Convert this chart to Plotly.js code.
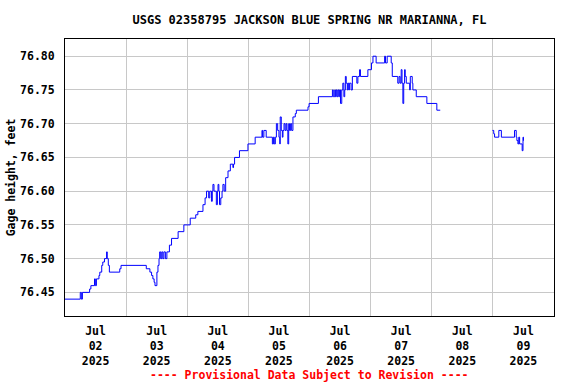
<!DOCTYPE html>
<html>
<head>
<meta charset="utf-8">
<script src="https://cdn.plot.ly/plotly-3.0.1.min.js"></script>
<style>html,body{margin:0;padding:0;background:#fff;}#chart{width:576px;height:384px;}</style>
</head>
<body>
<div id="chart"></div>
<script>
// Gage height readings (feet), 15-minute data shown as step changes
const timesA = [
"2025-07-02 00:00","2025-07-02 06:00","2025-07-02 06:25","2025-07-02 06:50","2025-07-02 09:40","2025-07-02 10:10",
"2025-07-02 11:35","2025-07-02 11:55","2025-07-02 12:20","2025-07-02 13:20","2025-07-02 13:40","2025-07-02 14:25",
"2025-07-02 14:50","2025-07-02 15:30","2025-07-02 16:20","2025-07-02 16:35","2025-07-02 17:00","2025-07-02 17:25",
"2025-07-02 21:30","2025-07-02 22:00","2025-07-03 07:55","2025-07-03 09:20","2025-07-03 10:00","2025-07-03 10:30",
"2025-07-03 11:00","2025-07-03 11:20","2025-07-03 12:05","2025-07-03 12:30","2025-07-03 12:55","2025-07-03 13:10",
"2025-07-03 13:35","2025-07-03 14:00","2025-07-03 14:25","2025-07-03 14:50","2025-07-03 15:25","2025-07-03 16:00",
"2025-07-03 17:00","2025-07-03 17:50","2025-07-03 20:25","2025-07-03 22:40","2025-07-04 01:10","2025-07-04 03:20",
"2025-07-04 04:10","2025-07-04 06:10","2025-07-04 07:00","2025-07-04 07:35","2025-07-04 08:25","2025-07-04 08:50",
"2025-07-04 09:30","2025-07-04 09:50","2025-07-04 10:05","2025-07-04 10:30","2025-07-04 11:25","2025-07-04 11:50",
"2025-07-04 12:05","2025-07-04 12:25","2025-07-04 12:40","2025-07-04 13:10","2025-07-04 13:40","2025-07-04 14:00",
"2025-07-04 14:30","2025-07-04 15:05","2025-07-04 16:00","2025-07-04 16:55","2025-07-04 17:55","2025-07-04 18:10",
"2025-07-04 18:35","2025-07-04 20:30","2025-07-04 23:50","2025-07-05 02:40","2025-07-05 05:20","2025-07-05 05:35",
"2025-07-05 06:05","2025-07-05 07:00","2025-07-05 09:25","2025-07-05 09:50","2025-07-05 10:10","2025-07-05 10:35",
"2025-07-05 11:00","2025-07-05 11:30","2025-07-05 12:00","2025-07-05 12:20","2025-07-05 12:30","2025-07-05 12:55",
"2025-07-05 13:20","2025-07-05 13:35","2025-07-05 14:00","2025-07-05 14:25","2025-07-05 14:50","2025-07-05 15:10",
"2025-07-05 15:30","2025-07-05 15:50","2025-07-05 16:10","2025-07-05 16:35","2025-07-05 17:00","2025-07-05 17:30",
"2025-07-05 18:25","2025-07-05 18:50","2025-07-05 23:25","2025-07-05 23:50","2025-07-06 03:30","2025-07-06 09:00",
"2025-07-06 09:20","2025-07-06 09:55","2025-07-06 10:10","2025-07-06 10:30","2025-07-06 10:50","2025-07-06 11:10",
"2025-07-06 11:30","2025-07-06 11:50","2025-07-06 12:10","2025-07-06 12:40","2025-07-06 13:05","2025-07-06 13:30",
"2025-07-06 13:50","2025-07-06 14:05","2025-07-06 14:25","2025-07-06 14:50","2025-07-06 15:05","2025-07-06 15:25",
"2025-07-06 15:40","2025-07-06 16:20","2025-07-06 16:50","2025-07-06 18:35","2025-07-06 19:00","2025-07-06 19:40",
"2025-07-06 20:00","2025-07-06 22:55","2025-07-07 00:20","2025-07-07 00:55","2025-07-07 02:10","2025-07-07 05:30",
"2025-07-07 05:50","2025-07-07 06:30","2025-07-07 08:05","2025-07-07 08:30","2025-07-07 10:40","2025-07-07 11:10",
"2025-07-07 11:35","2025-07-07 12:00","2025-07-07 12:20","2025-07-07 12:40","2025-07-07 13:00","2025-07-07 13:20",
"2025-07-07 13:35","2025-07-07 14:00","2025-07-07 15:20","2025-07-07 15:35","2025-07-07 16:20","2025-07-07 16:35",
"2025-07-07 17:55","2025-07-07 22:05","2025-07-08 02:00","2025-07-08 03:20"
];
const heightsA = [
76.44,76.45,76.44,76.45,76.455,76.46,
76.47,76.46,76.47,76.475,76.48,76.49,
76.495,76.50,76.51,76.50,76.49,76.48,
76.485,76.49,76.485,76.48,76.475,76.47,
76.465,76.46,76.48,76.49,76.50,76.51,
76.50,76.51,76.50,76.51,76.50,76.51,
76.52,76.53,76.54,76.55,76.56,76.565,
76.57,76.58,76.59,76.60,76.59,76.60,
76.585,76.60,76.61,76.60,76.58,76.60,
76.61,76.60,76.58,76.59,76.60,76.61,
76.60,76.62,76.63,76.64,76.635,76.64,
76.65,76.66,76.67,76.68,76.69,76.68,
76.69,76.68,76.67,76.68,76.67,76.68,
76.70,76.69,76.68,76.67,76.71,76.69,
76.68,76.69,76.70,76.69,76.70,76.69,
76.67,76.70,76.69,76.70,76.69,76.71,
76.715,76.72,76.725,76.73,76.74,76.75,
76.74,76.75,76.74,76.75,76.74,76.75,
76.74,76.75,76.73,76.75,76.76,76.74,
76.75,76.77,76.76,76.75,76.76,76.75,
76.76,76.75,76.77,76.76,76.77,76.78,
76.77,76.78,76.79,76.80,76.79,76.80,
76.79,76.80,76.79,76.77,76.76,76.77,
76.76,76.78,76.76,76.73,76.76,76.78,
76.77,76.76,76.75,76.77,76.76,76.75,
76.74,76.73,76.72,76.72
];
const timesB = [
"2025-07-08 23:50","2025-07-09 00:20","2025-07-09 00:40","2025-07-09 02:20","2025-07-09 03:20","2025-07-09 08:30",
"2025-07-09 09:10","2025-07-09 09:25","2025-07-09 09:50","2025-07-09 10:10","2025-07-09 10:30","2025-07-09 11:30",
"2025-07-09 11:50","2025-07-09 12:00","2025-07-09 12:10"
];
const heightsB = [
76.69,76.685,76.68,76.69,76.68,76.69,
76.68,76.675,76.67,76.68,76.67,76.66,
76.68,76.675,76.675
];
const gapTime = "2025-07-08 12:00";

const titleText = "USGS 02358795 JACKSON BLUE SPRING NR MARIANNA, FL";
const yTitle = "Gage height, feet";
const footer = "---- Provisional Data Subject to Revision ----";
const xRange = ["2025-07-02 00:00", "2025-07-10 00:00"];
const yRange = [76.415, 76.8255];

const x = timesA.concat([gapTime], timesB);
const y = heightsA.concat([null], heightsB);

const F = "DejaVu Sans Mono, monospace";

const trace = {
  x: x, y: y, type: "scatter", mode: "lines",
  line: {color: "#0000ff", width: 1, shape: "hv"},
  connectgaps: false, hoverinfo: "skip"
};

const layout = {
  width: 576, height: 384,
  margin: {l: 65, r: 22, t: 39, b: 68},
  paper_bgcolor: "#ffffff", plot_bgcolor: "#ffffff",
  showlegend: false,
  title: {text: titleText, font: {family: F, size: 12, color: "#000", weight: "bold"},
          x: 0.5, xref: "paper", xanchor: "center", y: 1 - 20/384, yref: "container", yanchor: "middle"},
  xaxis: {
    type: "date", range: xRange, tick0: "2025-07-02", dtick: 86400000,
    ticklabelmode: "period", tickformat: "%b<br>%d<br>%Y",
    showgrid: true, gridcolor: "#c8c8c8", gridwidth: 1,
    showline: true, linecolor: "#000", linewidth: 1, mirror: true,
    ticks: "", ticklabelstandoff: 4,
    tickfont: {family: F, size: 11.5, color: "#000", weight: "bold"},
    zeroline: false, fixedrange: true
  },
  yaxis: {
    range: yRange, tick0: 76.45, dtick: 0.05, tickformat: ".2f",
    showgrid: true, gridcolor: "#c8c8c8", gridwidth: 1,
    showline: true, linecolor: "#000", linewidth: 1, mirror: true,
    ticks: "", ticklabelstandoff: 7,
    tickfont: {family: F, size: 11.5, color: "#000", weight: "bold"},
    title: {text: yTitle, font: {family: F, size: 11.5, color: "#000", weight: "bold"}, standoff: 2},
    zeroline: false, fixedrange: true
  },
  annotations: [{
    text: footer, xref: "paper", yref: "paper", x: 0.5, y: (316 - 375) / 277,
    xanchor: "center", yanchor: "middle", showarrow: false,
    font: {family: F, size: 11.5, color: "#ff0000", weight: "bold"}
  }]
};

Plotly.newPlot("chart", [trace], layout, {staticPlot: true, displayModeBar: false});
</script>
</body>
</html>
